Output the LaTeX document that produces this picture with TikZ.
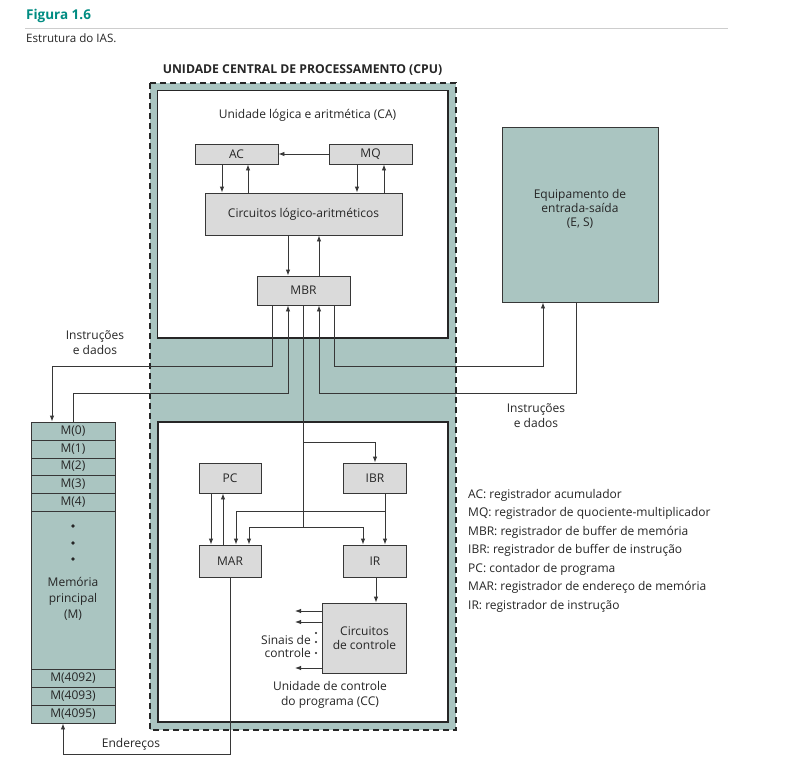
\documentclass[tikz,border=0pt]{standalone}
\usepackage{fontspec}
\setmainfont{Open Sans}
\usetikzlibrary{arrows.meta}
\definecolor{teal}{RGB}{0,140,130}
\definecolor{cpufill}{RGB}{170,197,193}
\definecolor{regfill}{RGB}{218,218,218}
\definecolor{linec}{RGB}{55,55,55}
\definecolor{rulec}{RGB}{205,205,205}
\newcommand{\fs}{\fontsize{12}{14}\selectfont}
\tikzset{
  txt/.style={font=\fs, text=black!85, inner sep=0pt},
  reg/.style={draw=linec, fill=regfill, line width=0.9pt, inner sep=0pt, font=\fs, text=black!85},
  memrow/.style={draw=linec, line width=0.9pt, inner sep=0pt, minimum width=84pt, minimum height=18pt, font=\fs, text=black!85},
  unitbox/.style={draw=black!85, fill=white, line width=1.5pt},
  conn/.style={draw=linec, line width=0.9pt},
  arr/.style={conn, -{Latex[length=6pt,width=4.5pt]}},
  legend/.style={txt, anchor=west},
}
\begin{document}
\begin{tikzpicture}[x=1pt,y=-1pt]
\useasboundingbox[fill=white] (0,0) rectangle (795,784);
% header
\node[anchor=west, font=\fontsize{13.5}{15}\selectfont\bfseries, text=teal, inner sep=0pt] (fig) at (26,16) {Figura 1.6};
\draw[rulec, line width=1.5pt] (25,28.5) -- (728,28.5);
\node[txt, anchor=west, font=\fontsize{11.6}{14}\selectfont] (cap) at (26,38) {Estrutura do IAS.};
% CPU
\node[txt, font=\fontsize{12.2}{14}\selectfont\bfseries] (cputitle) at (302.5,70) {UNIDADE CENTRAL DE PROCESSAMENTO (CPU)};
\draw[fill=cpufill, draw=black!85, line width=1.5pt, dash pattern=on 6pt off 4pt] (150,83) rectangle (456,730);
\draw[unitbox] (157.5,90.5) rectangle (448,338);
\draw[unitbox] (158,422) rectangle (448,722);
\node[txt] (catitle) at (307.5,115) {Unidade lógica e aritmética (CA)};
% ALU registers
\node[reg, minimum width=83pt, minimum height=20pt] (AC) at (236.5,154) {AC};
\node[reg, minimum width=83pt, minimum height=20pt] (MQ) at (370.5,154) {MQ};
\node[reg, minimum width=197pt, minimum height=42pt] (ALC) at (303.5,214) {Circuitos lógico-aritméticos};
\node[reg, minimum width=93pt, minimum height=29pt] (MBR) at (303.5,290.5) {MBR};
% IO
\node[draw=linec, fill=cpufill, line width=0.9pt, minimum width=156pt, minimum height=175pt, inner sep=0pt] (IO) at (580,214.5) {};
\node[txt, align=center, font=\fontsize{12}{14}\selectfont] (iotxt) at (580,209) {Equipamento de\\entrada-saída\\(E, S)};
% Memory
\node[draw=linec, fill=cpufill, line width=0.9pt, minimum width=84pt, minimum height=301pt, inner sep=0pt] (Mem) at (73,572.5) {};
\node[memrow] (M0) at (73,431) {M(0)};
\node[memrow] (M1) at (73,449) {M(1)};
\node[memrow, minimum height=17pt] (M2) at (73,466.5) {M(2)};
\node[memrow] (M3) at (73,484) {M(3)};
\node[memrow] (M4) at (73,502) {M(4)};
\node[memrow] (M4092) at (73,678) {M(4092)};
\node[memrow] (M4093) at (73,696) {M(4093)};
\node[memrow] (M4095) at (73,714) {M(4095)};
\fill[black!85] (73,526) circle (1.8pt) (73,543) circle (1.8pt) (73,559) circle (1.8pt);
\node[txt, align=center, font=\fontsize{12}{16}\selectfont] (memtxt) at (73,599) {Memória\\principal\\(M)};
% CC registers
\node[reg, minimum width=62pt, minimum height=30pt] (PC) at (230,478) {PC};
\node[reg, minimum width=63pt, minimum height=30pt] (IBR) at (375,478) {IBR};
\node[reg, minimum width=62pt, minimum height=32pt] (MAR) at (230,561) {MAR};
\node[reg, minimum width=63pt, minimum height=32pt] (IR) at (375,561) {IR};
\node[reg, minimum width=84pt, minimum height=70pt, align=center, font=\fontsize{12}{13.5}\selectfont] (CTL) at (364.5,638) {Circuitos\\de controle};
\node[txt, align=center, font=\fontsize{12}{14.5}\selectfont] (cctitle) at (330,695) {Unidade de controle\\do programa (CC)};
\node[txt, align=right, anchor=east, font=\fontsize{12}{13.5}\selectfont] (sig) at (311,646.5) {Sinais de\\controle};
\fill[black!85] (316,633) circle (1.2pt) (316,642) circle (1.2pt) (316,653) circle (1.2pt);
% labels
\node[txt, align=center, font=\fontsize{12}{15}\selectfont] (idl) at (95,342.5) {Instruções\\e dados};
\node[txt, align=center, font=\fontsize{12}{15}\selectfont] (idr) at (536,415.5) {Instruções\\e dados};
\node[txt] (end) at (131,744) {Endereços};
% legend
\node[legend] (l1) at (468,495) {AC: registrador acumulador};
\node[legend] (l2) at (468,513.5) {MQ: registrador de quociente-multiplicador};
\node[legend] (l3) at (468,532) {MBR: registrador de buffer de memória};
\node[legend] (l4) at (468,550.5) {IBR: registrador de buffer de instrução};
\node[legend] (l5) at (468,569) {PC: contador de programa};
\node[legend] (l6) at (468,587.5) {MAR: registrador de endereço de memória};
\node[legend] (l7) at (468,606) {IR: registrador de instrução};
% ALU connectors
\draw[arr] (MQ.west) -- (AC.east);
\draw[arr] ([xshift=-14.5pt]AC.south) -- ([xshift=-14.5pt]AC.south |- ALC.north);
\draw[arr] ([xshift=11.5pt]AC.south |- ALC.north) -- ([xshift=11.5pt]AC.south);
\draw[arr] ([xshift=-13.5pt]MQ.south) -- ([xshift=-13.5pt]MQ.south |- ALC.north);
\draw[arr] ([xshift=13.5pt]MQ.south |- ALC.north) -- ([xshift=13.5pt]MQ.south);
\draw[arr] ([xshift=-15.5pt]ALC.south) -- ([xshift=-15.5pt]ALC.south |- MBR.north);
\draw[arr] ([xshift=15.5pt]ALC.south |- MBR.north) -- ([xshift=15.5pt]ALC.south);
% MBR <-> memory
\draw[arr] ([xshift=-31.5pt]MBR.south) |- (52,366) -- (52,366 |- M0.north);
\draw[arr] (M0.north) |- (288,393) -- ([xshift=-15.5pt]MBR.south);
% MBR <-> IO
\draw[arr] ([xshift=30.5pt]MBR.south) |- (543,366) -- (543,366 |- IO.south);
\draw[arr] ([xshift=-4pt]IO.south) |- (319,393) -- ([xshift=15.5pt]MBR.south);
% MBR -> CC
\coordinate (jA) at (303.5,442);
\coordinate (jB) at (303.5,527);
\draw[conn] (MBR.south) -- (jB);
\draw[arr] (jA) -| (IBR.north);
\draw[arr] (jB) -| ([xshift=19pt]MAR.north);
\draw[arr] (jB) -| ([xshift=-12pt]IR.north);
\draw[arr] ([xshift=10pt]IBR.south) -- ([xshift=10pt]IR.north);
\draw[arr] ([xshift=10pt]IBR.south |- 0,511) -| ([xshift=6pt]MAR.north);
\draw[arr] ([xshift=-19pt]PC.south) -- ([xshift=-19pt]MAR.north);
\draw[arr] ([xshift=-7pt]MAR.north) -- ([xshift=-7pt]PC.south);
\draw[arr] ([xshift=1pt]IR.south) -- ([xshift=1pt]IR.south |- CTL.north);
\draw[arr] (CTL.west |- 0,611) -- (295,611);
\draw[arr] (CTL.west |- 0,622) -- (295,622);
\draw[arr] (CTL.west |- 0,668) -- (295,668);
% MAR -> memory
\draw[arr] (MAR.south) |- (63,754) -- (63,754 |- M4095.south);
\end{tikzpicture}
\end{document}
